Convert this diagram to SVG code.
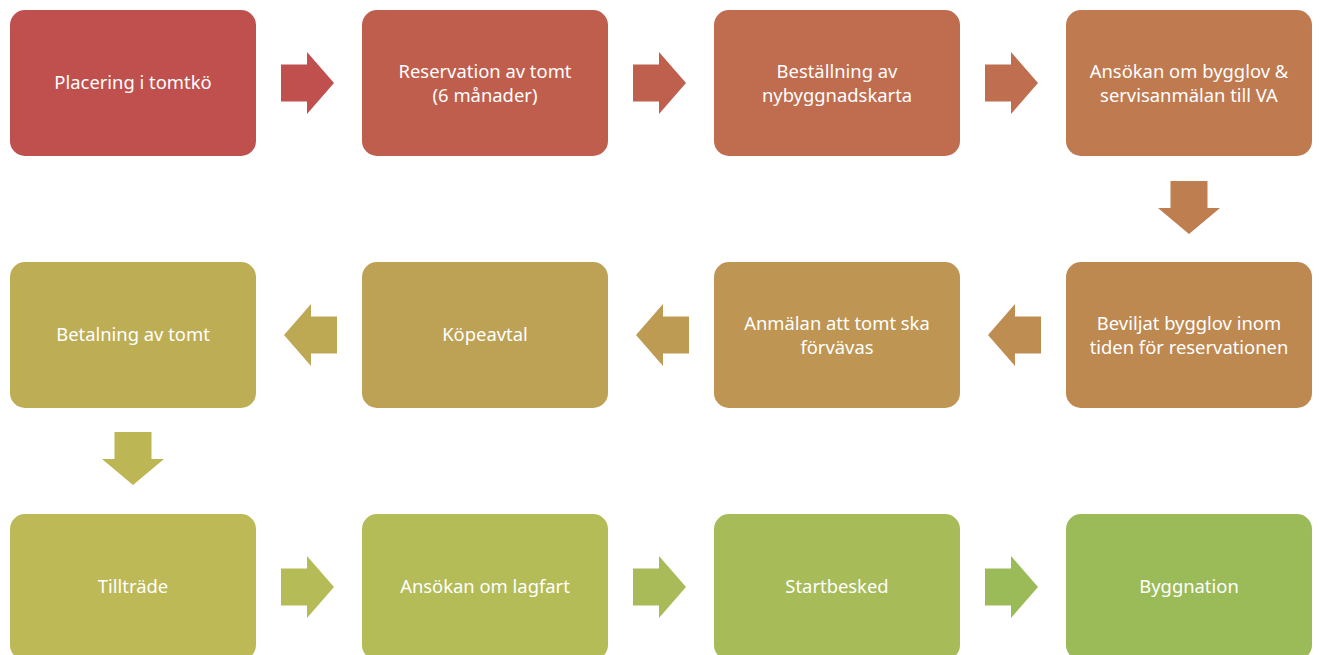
<svg xmlns="http://www.w3.org/2000/svg" width="1321" height="655" viewBox="0 0 1321 655">
<style>
.t{font-family:"Noto Sans","Open Sans","Liberation Sans",sans-serif;font-size:18.4px;fill:#ffffff;text-anchor:middle}
</style>
<defs>
<path id="ar" d="M0,-18.5 H26 V-31 L53,0 L26,31 V18.5 H0 Z"/>
<path id="al" d="M0,-18.5 H-26 V-31 L-53,0 L-26,31 V18.5 H0 Z"/>
<path id="ad" d="M-18.5,0 V27 H-31 L0,53 L31,27 H18.5 V0 Z"/>
</defs>
<rect width="1321" height="655" fill="#ffffff"/>
<g id="connectors">
<use href="#ar" x="281" y="83" fill="#C0504D"/>
<use href="#ar" x="633" y="83" fill="#BF604E"/>
<use href="#ar" x="985" y="83" fill="#BF6F4F"/>
<use href="#ad" x="1189" y="181" fill="#BE7E50"/>
<use href="#al" x="1041" y="335" fill="#BE8D52"/>
<use href="#al" x="689" y="335" fill="#BD9B53"/>
<use href="#al" x="337" y="335" fill="#BDA954"/>
<use href="#ad" x="133" y="432" fill="#BCB655"/>
<use href="#ar" x="281" y="587" fill="#B5BC57"/>
<use href="#ar" x="633" y="587" fill="#A8BB58"/>
<use href="#ar" x="985" y="587" fill="#9BBB59"/>
</g>
<g id="n1"><rect x="10" y="10" width="246" height="146" rx="15" fill="#C0504D"/><text class="t" x="133" y="89">Placering i tomtkö</text></g>
<g id="n2"><rect x="362" y="10" width="246" height="146" rx="15" fill="#C05E4E"/><text class="t" x="485" y="78">Reservation av tomt</text><text class="t" x="485" y="102">(6 månader)</text></g>
<g id="n3"><rect x="714" y="10" width="246" height="146" rx="15" fill="#BF6C4F"/><text class="t" x="837" y="78">Beställning av</text><text class="t" x="837" y="102">nybyggnadskarta</text></g>
<g id="n4"><rect x="1066" y="10" width="246" height="146" rx="15" fill="#BF7A50"/><text class="t" x="1189" y="78">Ansökan om bygglov &amp;</text><text class="t" x="1189" y="102">servisanmälan till VA</text></g>
<g id="n5"><rect x="1066" y="262" width="246" height="146" rx="15" fill="#BE8851"/><text class="t" x="1189" y="330">Beviljat bygglov inom</text><text class="t" x="1189" y="354">tiden för reservationen</text></g>
<g id="n6"><rect x="714" y="262" width="246" height="146" rx="15" fill="#BE9552"/><text class="t" x="837" y="330">Anmälan att tomt ska</text><text class="t" x="837" y="354">förvävas</text></g>
<g id="n7"><rect x="362" y="262" width="246" height="146" rx="15" fill="#BDA154"/><text class="t" x="485" y="341">Köpeavtal</text></g>
<g id="n8"><rect x="10" y="262" width="246" height="146" rx="15" fill="#BDAE55"/><text class="t" x="133" y="341">Betalning av tomt</text></g>
<g id="n9"><rect x="10" y="514" width="246" height="146" rx="15" fill="#BCB956"/><text class="t" x="133" y="593">Tillträde</text></g>
<g id="n10"><rect x="362" y="514" width="246" height="146" rx="15" fill="#B3BC57"/><text class="t" x="485" y="593">Ansökan om lagfart</text></g>
<g id="n11"><rect x="714" y="514" width="246" height="146" rx="15" fill="#A7BB58"/><text class="t" x="837" y="593">Startbesked</text></g>
<g id="n12"><rect x="1066" y="514" width="246" height="146" rx="15" fill="#9BBB59"/><text class="t" x="1189" y="593">Byggnation</text></g>
</svg>
